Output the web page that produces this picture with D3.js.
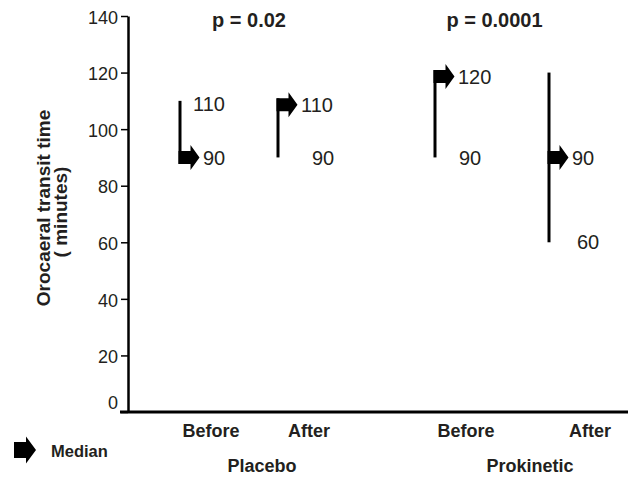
<!DOCTYPE html>
<html>
<head>
<meta charset="utf-8">
<script src="https://cdn.jsdelivr.net/npm/d3@7"></script>
<style>
  body { margin: 0; background: #fff; }
  svg { display: block; font-family: Arial, "Liberation Sans", sans-serif; }
</style>
</head>
<body>
<div id="chart"></div>
<script>
// data (minutes)
const groups = ['Placebo', 'Prokinetic'];
const phases = ['Before', 'After', 'Before', 'After'];
const phaseGroup = ['Placebo', 'Placebo', 'Prokinetic', 'Prokinetic'];
const minValues = [90, 90, 90, 60];
const maxValues = [110, 110, 120, 120];
const medianValues = [90, 110, 120, 90];
const pLabels = ['p = 0.02', 'p = 0.0001'];
const yTicks = [0, 20, 40, 60, 80, 100, 120, 140];

// layout: horizontal slots on a 0-100 axis (the groups are not evenly spaced)
const lineSlot = [10.4, 30, 61.4, 84.2];
const labelSlot = [16.6, 36.2, 67.6, 92.4];
const pSlot = [24.2, 73.3];
const endLabelDx = [13, 34, 24, 28]; // offset of the non-median value label

const W = 629, H = 477;
const ink = '#231f20';

const svg = d3.select('#chart').append('svg')
    .attr('width', W)
    .attr('height', H);

const x = d3.scaleLinear().domain([0, 100]).range([128, 628]);
const y = d3.scaleLinear().domain([0, 140]).range([412, 16]);

// y axis
const yAxis = svg.append('g')
    .attr('transform', `translate(${x(0)},0)`)
    .call(d3.axisLeft(y).tickValues(yTicks).tickSize(7).tickPadding(3).tickSizeOuter(0));
yAxis.select('.domain').attr('stroke', '#000').attr('stroke-width', 2.5);
yAxis.selectAll('.tick line').attr('stroke', '#000').attr('stroke-width', 1.5);
yAxis.selectAll('.tick text')
    .attr('fill', ink)
    .style('font-size', '18px')
    .attr('dy', d => d === 0 ? '-0.2em' : '0.4em');

// x axis line
svg.append('line')
    .attr('x1', 120).attr('x2', x(100))
    .attr('y1', y(0)).attr('y2', y(0))
    .attr('stroke', '#000').attr('stroke-width', 2.8);

// y title
svg.append('text')
    .attr('transform', 'translate(50,208) rotate(-90)')
    .attr('text-anchor', 'middle')
    .attr('fill', ink)
    .style('font-size', '19px').style('font-weight', 'bold')
    .text('Orocaeral transit time');
svg.append('text')
    .attr('transform', 'translate(67,212) rotate(-90)')
    .attr('text-anchor', 'middle')
    .attr('fill', ink)
    .style('font-size', '19px').style('font-weight', 'bold')
    .text('( minutes)');

function arrowPath(x0, cy, bl, hl, bh, hh) {
    return `M${x0},${cy - bh / 2}L${x0 + bl},${cy - bh / 2}L${x0 + bl},${cy - hh / 2}` +
        `L${x0 + bl + hl},${cy}L${x0 + bl},${cy + hh / 2}L${x0 + bl},${cy + bh / 2}L${x0},${cy + bh / 2}Z`;
}

const rows = phases.map((p, i) => ({
    phase: p, group: phaseGroup[i],
    min: minValues[i], max: maxValues[i], median: medianValues[i], i
}));

const bodyH = 13, headH = 25;

const marks = svg.selectAll('.range')
    .data(rows)
    .enter().append('g')
    .attr('class', 'range');

marks.each(function (d) {
    const g = d3.select(this);
    const lx = x(lineSlot[d.i]);
    const shift = d.median === d.max ? 4 : 0;
    const cy = y(d.median) + shift;
    const top = Math.min(y(d.max), cy - bodyH / 2);
    const bottom = Math.max(y(d.min), d.median === d.min ? cy + bodyH / 2 : y(d.min));

    g.append('line')
        .attr('x1', lx).attr('x2', lx)
        .attr('y1', top).attr('y2', bottom)
        .attr('stroke', '#000').attr('stroke-width', 3);

    g.append('path')
        .attr('d', arrowPath(lx - 1.5, cy, 12, 9, bodyH, headH))
        .attr('fill', '#000');

    // value labels: median beside the arrow, plus the min (or max when the median is the min)
    const other = d.median === d.min ? d.max : d.min;
    g.append('text')
        .attr('x', lx + 23)
        .attr('y', cy)
        .attr('dy', '0.36em')
        .attr('fill', ink)
        .style('font-size', '20px')
        .text(d.median);
    g.append('text')
        .attr('x', lx + endLabelDx[d.i])
        .attr('y', y(other) + (other === d.max ? 3 : 0))
        .attr('dy', '0.36em')
        .attr('fill', ink)
        .style('font-size', '20px')
        .text(other);
});

// p values
svg.selectAll('.pval')
    .data(pLabels)
    .enter().append('text')
    .attr('class', 'pval')
    .attr('x', (d, i) => x(pSlot[i]))
    .attr('y', 27)
    .attr('text-anchor', 'middle')
    .attr('fill', ink)
    .style('font-size', '20px').style('font-weight', 'bold')
    .text(d => d);

// category labels
svg.selectAll('.phase')
    .data(phases)
    .enter().append('text')
    .attr('class', 'phase')
    .attr('x', (d, i) => x(labelSlot[i]))
    .attr('y', 437)
    .attr('text-anchor', 'middle')
    .attr('fill', ink)
    .style('font-size', '18px').style('font-weight', 'bold')
    .text(d => d);

svg.selectAll('.group')
    .data(groups)
    .enter().append('text')
    .attr('class', 'group')
    .attr('x', g => {
        const idx = phaseGroup.map((pg, i) => pg === g ? i : -1).filter(i => i >= 0);
        return x(d3.mean(idx, i => labelSlot[i])) + 2;
    })
    .attr('y', 472)
    .attr('text-anchor', 'middle')
    .attr('fill', ink)
    .style('font-size', '18px').style('font-weight', 'bold')
    .text(d => d);

// legend
svg.append('path')
    .attr('d', arrowPath(14, 450, 12, 10, 16, 27))
    .attr('fill', '#000');
svg.append('text')
    .attr('x', 51).attr('y', 457)
    .attr('fill', ink)
    .style('font-size', '16.5px').style('font-weight', 'bold')
    .text('Median');
</script>
</body>
</html>
